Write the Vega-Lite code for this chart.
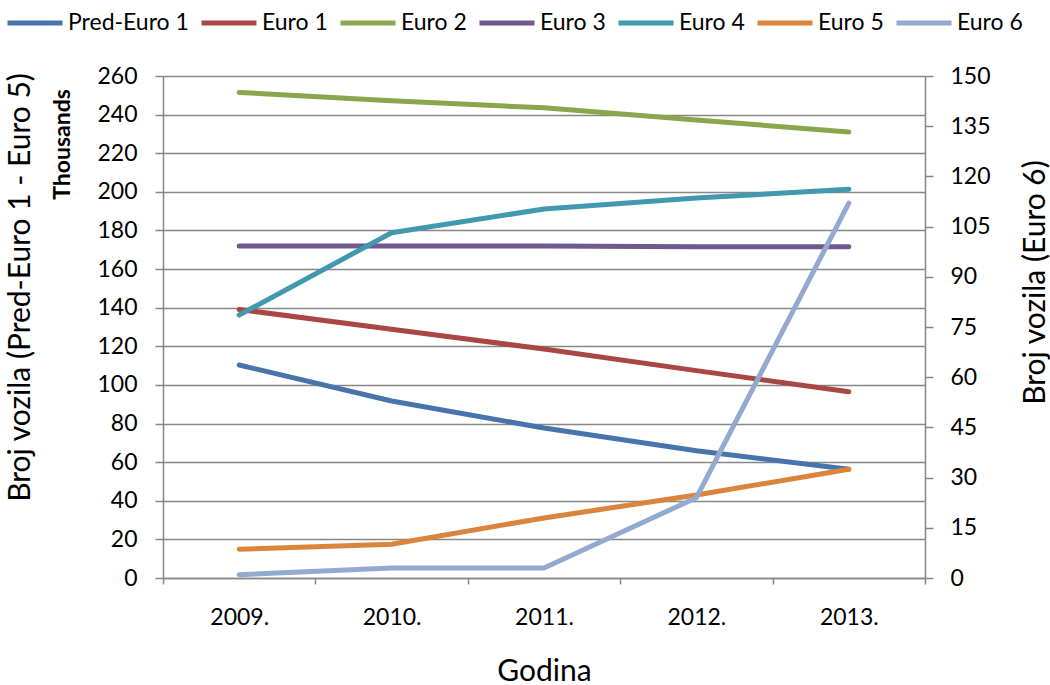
{
  "$schema": "https://vega.github.io/schema/vega-lite/v6.json",
  "width": 762,
  "height": 502,
  "autosize": {"type": "none"},
  "padding": {"left": 163, "top": 76, "right": 125, "bottom": 107},
  "background": "white",
  "config": {
    "font": "Lato",
    "view": {"stroke": null},
    "axis": {
      "labelFont": "Lato", "labelFontSize": 23, "labelColor": "#000000",
      "titleFont": "Lato", "titleFontSize": 30, "titleFontWeight": "normal", "titleColor": "#000000",
      "domainColor": "#878787", "domainWidth": 1.5,
      "tickColor": "#878787", "tickWidth": 1.5,
      "gridColor": "#878787", "gridWidth": 1.5, "gridOpacity": 1
    },
    "legend": {
      "labelFont": "Lato", "labelFontSize": 23, "labelColor": "#000000"
    }
  },
  "data": {
    "values": [
      {"godina": "2009.", "serija": "Pred-Euro 1", "vrijednost": 110.3},
      {"godina": "2010.", "serija": "Pred-Euro 1", "vrijednost": 91.7},
      {"godina": "2011.", "serija": "Pred-Euro 1", "vrijednost": 77.7},
      {"godina": "2012.", "serija": "Pred-Euro 1", "vrijednost": 65.9},
      {"godina": "2013.", "serija": "Pred-Euro 1", "vrijednost": 56.3},
      {"godina": "2009.", "serija": "Euro 1", "vrijednost": 139.1},
      {"godina": "2010.", "serija": "Euro 1", "vrijednost": 128.8},
      {"godina": "2011.", "serija": "Euro 1", "vrijednost": 118.6},
      {"godina": "2012.", "serija": "Euro 1", "vrijednost": 107.4},
      {"godina": "2013.", "serija": "Euro 1", "vrijednost": 96.5},
      {"godina": "2009.", "serija": "Euro 2", "vrijednost": 251.5},
      {"godina": "2010.", "serija": "Euro 2", "vrijednost": 247.2},
      {"godina": "2011.", "serija": "Euro 2", "vrijednost": 243.5},
      {"godina": "2012.", "serija": "Euro 2", "vrijednost": 237.2},
      {"godina": "2013.", "serija": "Euro 2", "vrijednost": 231.0},
      {"godina": "2009.", "serija": "Euro 3", "vrijednost": 171.9},
      {"godina": "2010.", "serija": "Euro 3", "vrijednost": 171.9},
      {"godina": "2011.", "serija": "Euro 3", "vrijednost": 172.0},
      {"godina": "2012.", "serija": "Euro 3", "vrijednost": 171.6},
      {"godina": "2013.", "serija": "Euro 3", "vrijednost": 171.6},
      {"godina": "2009.", "serija": "Euro 4", "vrijednost": 136.2},
      {"godina": "2010.", "serija": "Euro 4", "vrijednost": 178.8},
      {"godina": "2011.", "serija": "Euro 4", "vrijednost": 191.1},
      {"godina": "2012.", "serija": "Euro 4", "vrijednost": 196.8},
      {"godina": "2013.", "serija": "Euro 4", "vrijednost": 201.3},
      {"godina": "2009.", "serija": "Euro 5", "vrijednost": 14.9},
      {"godina": "2010.", "serija": "Euro 5", "vrijednost": 17.5},
      {"godina": "2011.", "serija": "Euro 5", "vrijednost": 31.1},
      {"godina": "2012.", "serija": "Euro 5", "vrijednost": 43.0},
      {"godina": "2013.", "serija": "Euro 5", "vrijednost": 56.3},
      {"godina": "2009.", "serija": "Euro 6", "vrijednost": 1},
      {"godina": "2010.", "serija": "Euro 6", "vrijednost": 3},
      {"godina": "2011.", "serija": "Euro 6", "vrijednost": 3},
      {"godina": "2012.", "serija": "Euro 6", "vrijednost": 24},
      {"godina": "2013.", "serija": "Euro 6", "vrijednost": 112}
    ]
  },
  "encoding": {
    "x": {
      "field": "godina", "type": "ordinal",
      "scale": {"type": "band", "paddingInner": 0, "paddingOuter": 0},
      "axis": {
        "title": "Godina", "tickBand": "extent", "labelAngle": 0, "tickSize": 6,
        "labelPadding": 22, "grid": false,
        "titleY": 102, "titleBaseline": "alphabetic"
      }
    },
    "color": {
      "field": "serija", "type": "nominal",
      "scale": {
        "domain": ["Pred-Euro 1", "Euro 1", "Euro 2", "Euro 3", "Euro 4", "Euro 5", "Euro 6"],
        "range": ["#4674AB", "#AA4643", "#89A54E", "#71588F", "#4198AF", "#DB843D", "#93A9CF"]
      },
      "legend": {
        "title": null, "orient": "none", "legendX": -158, "legendY": -83,
        "direction": "horizontal", "columns": 7,
        "symbolType": "stroke", "symbolSize": 3025, "symbolStrokeWidth": 5,
        "labelOffset": 3, "columnPadding": 2
      }
    }
  },
  "layer": [
    {
      "transform": [{"filter": "datum.serija != 'Euro 6'"}],
      "mark": {"type": "line", "strokeWidth": 5, "strokeCap": "round", "strokeJoin": "round"},
      "encoding": {
        "y": {
          "field": "vrijednost", "type": "quantitative",
          "scale": {"domain": [0, 260], "nice": false},
          "axis": {
            "orient": "left",
            "values": [0, 20, 40, 60, 80, 100, 120, 140, 160, 180, 200, 220, 240, 260],
            "tickSize": 8, "labelPadding": 18, "grid": true,
            "title": "Thousands", "titleFontWeight": "bold", "titleFontSize": 23,
            "titleAngle": 270, "titleX": -101, "titleY": 68,
            "titleBaseline": "middle", "titleAlign": "center"
          }
        }
      }
    },
    {
      "transform": [{"filter": "datum.serija == 'Euro 6'"}],
      "mark": {"type": "line", "strokeWidth": 5, "strokeCap": "round", "strokeJoin": "round"},
      "encoding": {
        "y": {
          "field": "vrijednost", "type": "quantitative",
          "scale": {"domain": [0, 150], "nice": false},
          "axis": {
            "orient": "right",
            "values": [0, 15, 30, 45, 60, 75, 90, 105, 120, 135, 150],
            "tickSize": 8, "labelPadding": 17, "grid": false,
            "title": "Broj vozila (Euro 6)",
            "titleAngle": 270, "titleX": 110, "titleY": 206,
            "titleBaseline": "middle", "titleAlign": "center"
          }
        }
      }
    },
    {
      "mark": {"type": "rule", "opacity": 0},
      "encoding": {
        "y": {
          "datum": 0, "type": "quantitative",
          "scale": {"domain": [0, 260], "nice": false},
          "axis": {
            "orient": "left", "labels": false, "ticks": false, "domain": false, "grid": false,
            "title": "Broj vozila (Pred-Euro 1 - Euro 5)",
            "titleAngle": 270, "titleX": -143, "titleY": 211,
            "titleBaseline": "middle", "titleAlign": "center"
          }
        },
        "color": {"value": "#000000"}
      }
    }
  ],
  "resolve": {"scale": {"y": "independent"}, "axis": {"y": "independent"}}
}
